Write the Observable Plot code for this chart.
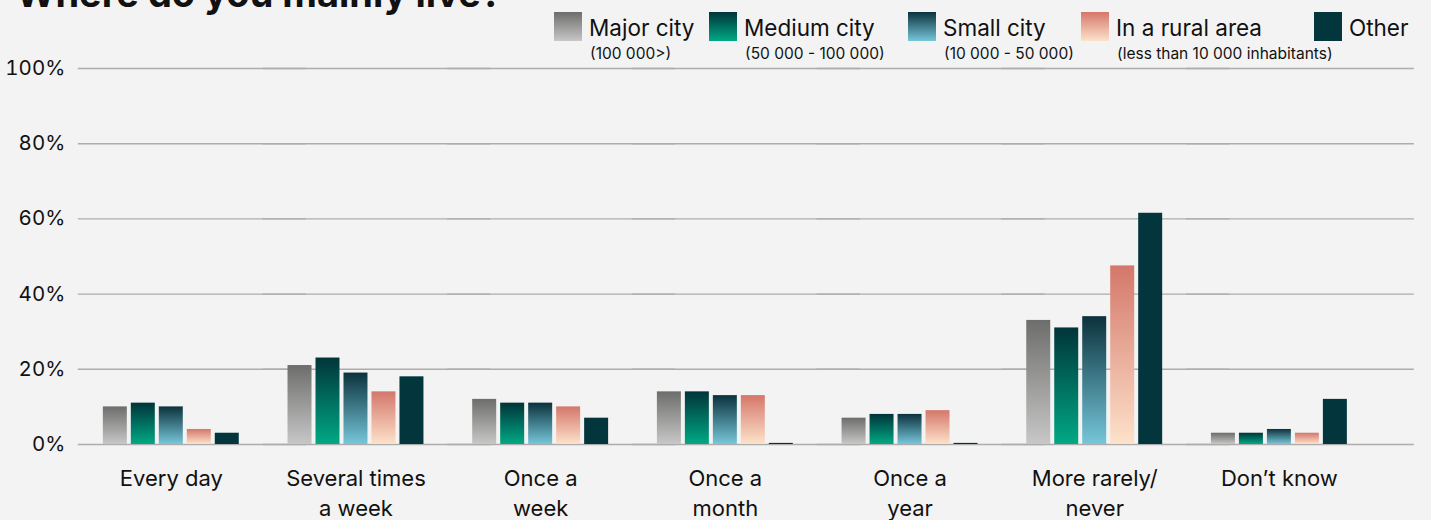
<!DOCTYPE html>
<html>
<head>
<meta charset="utf-8">
<script src="https://cdn.jsdelivr.net/npm/d3@7"></script>
<script src="https://cdn.jsdelivr.net/npm/@observablehq/plot@0.6"></script>
<style>
  html, body { margin: 0; padding: 0; background: #f3f3f3; }
  #wrap { position: relative; width: 1431px; height: 520px; overflow: hidden; font-family: Inter, "Noto Sans", sans-serif; color: #111; }
  #title { position: absolute; left: 16px; top: -26px; font-size: 38px; font-weight: 700; line-height: 38px; white-space: nowrap; }
  .lg { position: absolute; top: 12px; height: 29px; }
  .sw { position: absolute; left: 0; top: 0; width: 28px; height: 29px; }
  .lt { position: absolute; left: 35px; top: 1px; font-size: 22.5px; line-height: 29px; white-space: nowrap; }
  .ls { position: absolute; left: 36px; top: 33px; font-size: 15.5px; line-height: 17px; white-space: nowrap; }
  #chart { position: absolute; left: 0; top: 0; }
</style>
</head>
<body>
<div id="wrap">
  <div id="chart"></div>
  <div id="title">Where do you mainly live?</div>
  <div id="legend"></div>
</div>
<script>
// ---- data ----
const categories = ["Every day", "Several times a week", "Once a week", "Once a month", "Once a year", "More rarely/never", "Don't know"];
const categoryLabels = ["Every day", "Several times\na week", "Once a\nweek", "Once a\nmonth", "Once a\nyear", "More rarely/\nnever", "Don\u2019t know"];
const series = ["Major city", "Medium city", "Small city", "In a rural area", "Other"];
const seriesNotes = ["(100 000>)", "(50 000 - 100 000)", "(10 000 - 50 000)", "(less than 10 000 inhabitants)", ""];
const majorCity  = [10, 21, 12, 14, 7, 33, 3];
const mediumCity = [11, 23, 11, 14, 8, 31, 3];
const smallCity  = [10, 19, 11, 13, 8, 34, 4];
const ruralArea  = [4, 14, 10, 13, 9, 47.5, 3];
const other      = [3, 18, 7, 0.3, 0.3, 61.5, 12];
const yTicks = [0, 20, 40, 60, 80, 100];

// gradient colours (top, bottom) per series
const gradients = [
  ["#6d6d6b", "#c7c7c7"],
  ["#00343a", "#00a984"],
  ["#0b323c", "#76c6da"],
  ["#d4776a", "#fde2ca"],
  ["#02363c", "#02363c"]
];
const legendX = [554, 709, 908, 1081, 1314];

const valuesBySeries = [majorCity, mediumCity, smallCity, ruralArea, other];
const table = [];
series.forEach((s, si) => {
  categories.forEach((c, ci) => {
    table.push({category: c, series: s, value: valuesBySeries[si][ci], fill: `url(#grad${si})`});
  });
});

const labelOf = new Map(categories.map((c, i) => [c, categoryLabels[i]]));

const plot = Plot.plot({
  width: 1431,
  height: 520,
  marginTop: 68,
  marginBottom: 76,
  marginLeft: 78,
  marginRight: 17,
  style: {background: "transparent", fontFamily: "Inter, 'Noto Sans', sans-serif", fontSize: "20px", color: "#111", overflow: "visible"},
  fx: {domain: categories, paddingInner: 0.264, paddingOuter: 0.249, align: 0.27, round: false, label: null},
  x: {domain: series, paddingInner: 0.143, paddingOuter: 0, round: false, axis: null},
  y: {domain: [0, 100], label: null},
  color: {type: "identity"},
  marks: [
    Plot.ruleY(yTicks, {stroke: "#adadad", strokeWidth: 1.4, insetLeft: -25, insetRight: -67}),
    Plot.axisY(yTicks, {tickSize: 0, tickPadding: 38, tickFormat: d => d + "%", fontSize: 20.5, label: null}),
    Plot.axisFx({anchor: "bottom", tickSize: 0, tickPadding: 21, lineHeight: 1.33, fontSize: 22, tickFormat: d => labelOf.get(d), label: null}),
    Plot.barY(table, {fx: "category", x: "series", y: "value", fill: "fill"})
  ]
});

// gradient definitions used by the bars
const svg = d3.select(plot);
const defs = svg.insert("defs", ":first-child");
gradients.forEach(([top, bottom], i) => {
  const g = defs.append("linearGradient").attr("id", `grad${i}`).attr("x1", 0).attr("y1", 0).attr("x2", 0).attr("y2", 1);
  g.append("stop").attr("offset", "0%").attr("stop-color", top);
  g.append("stop").attr("offset", "100%").attr("stop-color", bottom);
});
document.getElementById("chart").appendChild(plot);

// legend
const legend = d3.select("#legend");
series.forEach((s, i) => {
  const item = legend.append("div").attr("class", "lg").style("left", legendX[i] + "px");
  item.append("div").attr("class", "sw").style("background", `linear-gradient(to bottom, ${gradients[i][0]}, ${gradients[i][1]})`);
  item.append("div").attr("class", "lt").text(s);
  if (seriesNotes[i]) item.append("div").attr("class", "ls").text(seriesNotes[i]);
});
</script>
</body>
</html>
